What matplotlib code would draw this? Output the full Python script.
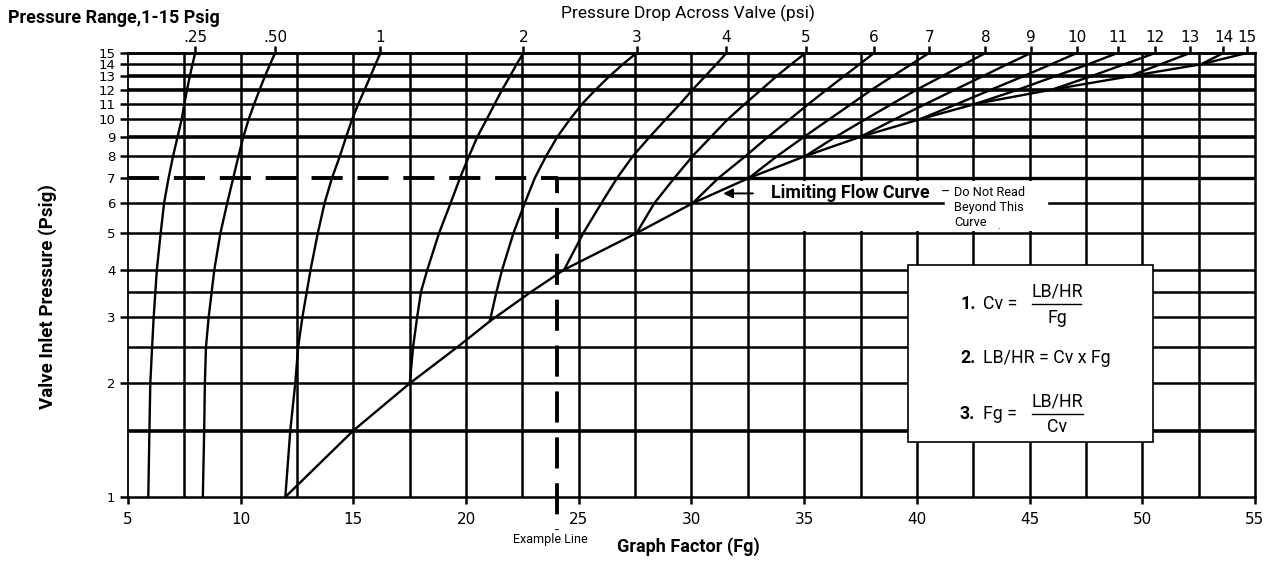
import matplotlib
matplotlib.use("Agg")
import matplotlib.pyplot as plt
from matplotlib.patches import Rectangle
from matplotlib.lines import Line2D

# --- data ----------------------------------------------------------------
# pressure-drop curves: graph factor (Fg) at valve inlet pressure (psig)
fg_025 = [5.90, 5.95, 5.99, 6.07, 6.14, 6.28, 6.45, 6.6, 6.8, 7.0, 7.2, 7.38, 7.5, 7.62, 7.74, 7.86, 7.98]
p_025 = [1, 1.5, 2, 2.5, 3, 4, 5, 6, 7, 8, 9, 10, 11, 12, 13, 14, 15]

fg_050 = [8.32, 8.38, 8.41, 8.46, 8.58, 8.83, 9.1, 9.4, 9.67, 9.9, 10.12, 10.35, 10.6, 10.84, 11.07, 11.3, 11.53]
p_050 = [1, 1.5, 2, 2.5, 3, 4, 5, 6, 7, 8, 9, 10, 11, 12, 13, 14, 15]

fg_1 = [11.98, 12.2, 12.42, 12.55, 12.74, 13.1, 13.42, 13.72, 14.05, 14.4, 14.68, 14.94, 15.22, 15.5, 15.75, 15.98, 16.2]
p_1 = [1, 1.5, 2, 2.5, 3, 4, 5, 6, 7, 8, 9, 10, 11, 12, 13, 14, 15]

fg_2 = [17.5, 17.65, 17.83, 18.0, 18.28, 18.8, 19.31, 19.73, 20.13, 20.5, 20.91, 21.27, 21.6, 21.94, 22.24, 22.54]
p_2 = [2, 2.5, 3, 3.5, 4, 5, 6, 7, 8, 9, 10, 11, 12, 13, 14, 15]

fg_3 = [21.05, 21.35, 21.6, 22.1, 22.6, 23.05, 23.55, 24.05, 24.6, 25.15, 25.75, 26.35, 26.95, 27.56]
p_3 = [2.92, 3.5, 4, 5, 6, 7, 8, 9, 10, 11, 12, 13, 14, 15]

fg_4 = [24.35, 25.2, 26.0, 26.7, 27.4, 28.15, 28.85, 29.5, 30.05, 30.6, 31.1, 31.55]
p_4 = [4, 5, 6, 7, 8, 9, 10, 11, 12, 13, 14, 15]

fg_5 = [27.56, 28.35, 29.24, 30.05, 30.87, 31.6, 32.37, 33.1, 33.76, 34.42, 35.06]
p_5 = [5, 6, 7, 8, 9, 10, 11, 12, 13, 14, 15]

fg_6 = [30.05, 31.2, 32.4, 33.4, 34.35, 35.2, 36.0, 36.75, 37.45, 38.1]
p_6 = [6, 7, 8, 9, 10, 11, 12, 13, 14, 15]

fg_7 = [32.55, 33.8, 35.0, 36.1, 37.1, 38.0, 38.9, 39.75, 40.54]
p_7 = [7, 8, 9, 10, 11, 12, 13, 14, 15]

fg_8 = [35.05, 36.4, 37.7, 38.9, 40.0, 41.1, 42.1, 43.04]
p_8 = [8, 9, 10, 11, 12, 13, 14, 15]

fg_9 = [37.5, 39.0, 40.4, 41.7, 42.9, 44.0, 45.06]
p_9 = [9, 10, 11, 12, 13, 14, 15]

fg_10 = [40.1, 41.8, 43.3, 44.7, 45.95, 47.1]
p_10 = [10, 11, 12, 13, 14, 15]

fg_11 = [42.6, 44.5, 46.1, 47.6, 48.9]
p_11 = [11, 12, 13, 14, 15]

fg_12 = [46.0, 47.7, 49.2, 50.57]
p_12 = [12, 13, 14, 15]

fg_13 = [49.4, 50.8, 52.12]
p_13 = [13, 14, 15]

fg_14 = [52.6, 53.6]
p_14 = [14, 15]

fg_15 = [54.64]
p_15 = [15]

dp_labels = [".25", ".50", "1", "2", "3", "4", "5", "6", "7", "8", "9", "10", "11", "12", "13", "14", "15"]

# limiting flow curve
fg_limit = [11.98, 15.0, 17.5, 19.63, 21.05, 22.9, 24.35, 27.56, 30.05, 32.55, 35.05, 37.5, 40.1, 42.6, 46.0, 49.4, 52.6, 54.64]
p_limit = [1, 1.5, 2, 2.5, 2.92, 3.5, 4, 5, 6, 7, 8, 9, 10, 11, 12, 13, 14, 15]

# example reading
example_fg = 24.05
example_p = 7

x_ticks = [5, 10, 15, 20, 25, 30, 35, 40, 45, 50, 55]
y_ticks = [1, 2, 3, 4, 5, 6, 7, 8, 9, 10, 11, 12, 13, 14, 15]
h_grid = [1.5, 2, 2.5, 3, 3.5, 4, 5, 8, 9, 10, 11, 12, 13, 14]
h_grid_thick = [1.5, 9, 12, 13]
v_grid = [7.5, 10, 12.5, 15, 17.5, 20, 22.5, 25, 27.5, 30, 32.5, 35, 37.5, 40, 42.5, 45, 47.5, 50, 52.5]

W, H = 1270, 562
NARROW = ["Roboto", "DejaVu Sans"]
NUMS = ["DejaVu Sans"]

curves_fg = [fg_025, fg_050, fg_1, fg_2, fg_3, fg_4, fg_5, fg_6, fg_7, fg_8, fg_9,
             fg_10, fg_11, fg_12, fg_13, fg_14, fg_15]
curves_p = [p_025, p_050, p_1, p_2, p_3, p_4, p_5, p_6, p_7, p_8, p_9,
            p_10, p_11, p_12, p_13, p_14, p_15]


def ftext(px, py, s, **kw):
    """place text using pixel coordinates of the figure"""
    fig.text(px / W, 1 - py / H, s, **kw)


fig = plt.figure(figsize=(W / 100, H / 100), dpi=100)
ax = fig.add_axes([128 / W, (H - 497) / H, 1127 / W, 444 / H])

ax.set_yscale("log")
ax.set_xlim(5, 55)
ax.set_ylim(1, 15)

# grid
for x in v_grid:
    ax.axvline(x, color="black", lw=1.8, zorder=1)
for y in h_grid:
    lw = 2.6 if y in h_grid_thick else 1.8
    ax.axhline(y, color="black", lw=lw, zorder=2)

# y=7 gridline only right of the example line
ax.plot([example_fg, 55], [7, 7], color="black", lw=2.4, zorder=2, solid_capstyle="butt")
# y=6 gridline broken by the note text
ax.plot([5, 41.15], [6, 6], color="black", lw=1.8, zorder=2)
ax.plot([45.85, 55], [6, 6], color="black", lw=1.8, zorder=2)

# white area behind the limiting flow note
ax.add_patch(Rectangle((0.5608, 0.598), 0.262, 0.113, transform=ax.transAxes,
                       facecolor="white", edgecolor="none", zorder=1.5))

# curves
for fg, p in zip(curves_fg, curves_p):
    ax.plot(fg, p, color="black", lw=1.7, zorder=4)
ax.plot(fg_limit, p_limit, color="black", lw=1.7, zorder=4)

# example dashed line
ax.plot([5, example_fg, example_fg], [example_p, example_p, 0.82], color="black",
        lw=2.8, dashes=(8, 3.8), zorder=4, clip_on=False, solid_capstyle="butt")

# spines and ticks
for side in ["top", "bottom", "right"]:
    ax.spines[side].set_linewidth(1.8)
ax.spines["left"].set_linewidth(1.3)

ax.set_xticks(x_ticks)
ax.set_xticklabels([str(v) for v in x_ticks], family=NUMS, fontsize=11)
ax.set_yticks(y_ticks)
ax.set_yticklabels([str(v) for v in y_ticks], family=NUMS, fontsize=9.5)
ax.yaxis.set_minor_locator(matplotlib.ticker.NullLocator())
ax.tick_params(axis="x", length=5, width=1.8, pad=6)
ax.tick_params(axis="y", length=6, width=1.8, pad=3)

top = ax.secondary_xaxis("top")
top_pos = [fg[-1] for fg in curves_fg]
top.set_xticks(top_pos)
top.set_xticklabels(dp_labels, family=NUMS, fontsize=11)
top.tick_params(length=5, width=1.8, pad=1)
top.spines["top"].set_linewidth(1.8)

# limiting flow note
ax.annotate("", xy=(31.28, 6.37), xytext=(32.85, 6.37),
            arrowprops=dict(arrowstyle="-|>", color="black", lw=1.4,
                            mutation_scale=14), zorder=5)
ftext(771, 193, "Limiting Flow Curve", family=NARROW, fontweight="bold",
      fontsize=12.8, va="center", ha="left")
ftext(941, 193, "\u2013", family=NARROW, fontsize=10, va="center", ha="left")
ftext(954, 192, "Do Not Read", family=NARROW, fontsize=9.2, va="center", ha="left")
ftext(954, 208, "Beyond This", family=NARROW, fontsize=9.2, va="center", ha="left")
ftext(954, 223, "Curve", family=NARROW, fontsize=9.2, va="center", ha="left")
ftext(997, 226, ".", family=NARROW, fontsize=7, va="center", ha="left")

# formula box
ax.add_patch(Rectangle((0.692, 0.124), 0.2175, 0.3985, transform=ax.transAxes,
                       facecolor="white", edgecolor="black", lw=1.2, zorder=6))
fs = 12.8
ftext(960, 304, "1.", family=NARROW, fontweight="bold", fontsize=fs, va="center", ha="left", zorder=7)
ftext(983, 304, "Cv =", family=NARROW, fontsize=fs, va="center", ha="left", zorder=7)
ftext(1057, 291, "LB/HR", family=NARROW, fontsize=fs, va="center", ha="center", zorder=7)
ftext(1057, 318, "Fg", family=NARROW, fontsize=fs, va="center", ha="center", zorder=7)
fig.add_artist(Line2D([1032 / W, 1081 / W], [1 - 304.5 / H, 1 - 304.5 / H], color="black", lw=1.0, zorder=7))

ftext(960, 358, "2.", family=NARROW, fontweight="bold", fontsize=fs, va="center", ha="left", zorder=7)
ftext(983, 358, "LB/HR = Cv x Fg", family=NARROW, fontsize=fs, va="center", ha="left", zorder=7)

ftext(960, 414, "3.", family=NARROW, fontweight="bold", fontsize=fs, va="center", ha="left", zorder=7)
ftext(983, 414, "Fg =", family=NARROW, fontsize=fs, va="center", ha="left", zorder=7)
ftext(1057, 401, "LB/HR", family=NARROW, fontsize=fs, va="center", ha="center", zorder=7)
ftext(1057, 427, "Cv", family=NARROW, fontsize=fs, va="center", ha="center", zorder=7)
fig.add_artist(Line2D([1032 / W, 1083 / W], [1 - 413.5 / H, 1 - 413.5 / H], color="black", lw=1.0, zorder=7))

# titles and axis labels
ftext(8, 18, "Pressure Range,1-15 Psig", family=NARROW, fontweight="bold", fontsize=13, va="center", ha="left")
ftext(688, 13, "Pressure Drop Across Valve (psi)", family=NARROW, fontsize=12.5, va="center", ha="center")
ftext(48, 297, "Valve Inlet Pressure (Psig)", family=NARROW, fontweight="bold", fontsize=13.5,
      va="center", ha="center", rotation=90)
ftext(688, 547, "Graph Factor (Fg)", family=NARROW, fontweight="bold", fontsize=13, va="center", ha="center")
ftext(550, 540, "Example Line", family=NARROW, fontsize=9, va="center", ha="center")

fig.savefig("out.png", dpi=100, facecolor="white")
